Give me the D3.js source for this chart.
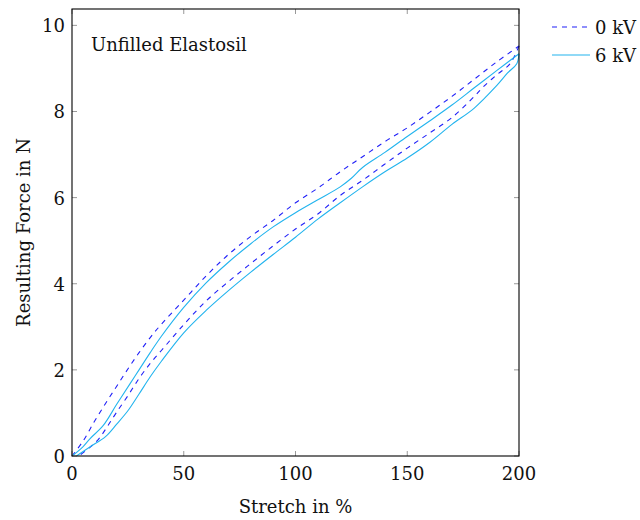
<!DOCTYPE html>
<html>
<head>
<meta charset="utf-8">
<script src="https://cdn.jsdelivr.net/npm/d3@7"></script>
<style>
  body { margin: 0; background: #fff; }
  text { font-family: "DejaVu Serif", "Liberation Serif", serif; fill: #111; }
</style>
</head>
<body>
<div id="vizDiv"></div>
<script>
var width = 640
var height = 520

// stretch (%) / force (N)
var load0x   = [0, 5, 10, 15, 20, 25, 30, 35, 40, 50, 60, 70, 80, 90, 100, 110, 120, 130, 140, 150, 160, 170, 180, 190, 200]
var load0y   = [0, 0.35, 0.8, 1.22, 1.62, 2.02, 2.4, 2.75, 3.06, 3.62, 4.18, 4.68, 5.1, 5.47, 5.88, 6.22, 6.6, 6.95, 7.3, 7.62, 7.98, 8.35, 8.75, 9.15, 9.52]
var unload0x = [200, 196, 190, 184, 180, 170, 160, 150, 140, 130, 120, 110, 100, 90, 80, 70, 60, 50, 40, 35, 30, 25, 20, 16, 12, 8, 3]
var unload0y = [9.52, 9.11, 8.85, 8.57, 8.35, 7.86, 7.5, 7.15, 6.78, 6.4, 6.05, 5.62, 5.27, 4.88, 4.47, 4.05, 3.6, 3.05, 2.45, 2.15, 1.8, 1.4, 1.02, 0.7, 0.4, 0.2, 0]

var load6x   = [0, 5, 8, 14, 20, 26, 30, 35, 40, 50, 60, 70, 80, 90, 100, 110, 120, 125, 130, 140, 150, 160, 170, 180, 190, 200]
var load6y   = [0, 0.22, 0.4, 0.71, 1.2, 1.68, 2.0, 2.4, 2.78, 3.45, 4.02, 4.5, 4.93, 5.32, 5.65, 5.95, 6.25, 6.45, 6.7, 7.05, 7.42, 7.78, 8.15, 8.55, 8.95, 9.34]
var unload6x = [200, 199, 195, 190, 180, 170, 160, 150, 140, 130, 120, 110, 100, 90, 80, 70, 60, 50, 40, 35, 30, 25, 20, 15, 8, 2]
var unload6y = [9.34, 9.11, 8.9, 8.6, 8.08, 7.7, 7.28, 6.92, 6.6, 6.25, 5.88, 5.5, 5.08, 4.68, 4.27, 3.84, 3.38, 2.86, 2.2, 1.84, 1.44, 1.05, 0.74, 0.45, 0.21, 0]

var seriesNames = ["0 kV", "6 kV"]
var xTicks = [0, 50, 100, 150, 200]
var yTicks = [0, 2, 4, 6, 8, 10]

var margin = {left: 72, right: 121, top: 9, bottom: 64}
var plotW = width - margin.left - margin.right
var plotH = height - margin.top - margin.bottom
var fs = "18px"

var svg = d3.select("#vizDiv")
  .append("svg")
  .attr("width", width)
  .attr("height", height)

var g = svg.append("g").attr("transform", "translate(" + margin.left + "," + margin.top + ")")

var x = d3.scaleLinear().domain([0, 200]).range([0, plotW])
var y = d3.scaleLinear().domain([0, 10.38]).range([plotH, 0])

function pts(xs, ys) { return xs.map(function(v, i) { return [v, ys[i]] }) }

var line = d3.line()
  .x(function(d) { return x(d[0]) })
  .y(function(d) { return y(d[1]) })
  .curve(d3.curveCatmullRom.alpha(0.5))

var series = [
  {name: seriesNames[0], parts: [pts(load0x, load0y), pts(unload0x, unload0y)], color: "#2020f8", dash: "5,5"},
  {name: seriesNames[1], parts: [pts(load6x, load6y), pts(unload6x, unload6y)], color: "#22b4ee", dash: null}
]

series.forEach(function(s) {
  s.parts.forEach(function(p) {
    g.append("path")
      .attr("d", line(p))
      .attr("fill", "none")
      .attr("stroke", s.color)
      .attr("stroke-width", 1.1)
      .attr("stroke-dasharray", s.dash)
  })
})

// inward ticks on all four sides
var tickCol = "#999"
xTicks.forEach(function(t) {
  g.append("line").attr("x1", x(t)).attr("x2", x(t)).attr("y1", plotH).attr("y2", plotH - 5).attr("stroke", tickCol)
  g.append("line").attr("x1", x(t)).attr("x2", x(t)).attr("y1", 0).attr("y2", 5).attr("stroke", tickCol)
  g.append("text").attr("x", x(t)).attr("y", plotH + 24).attr("text-anchor", "middle")
    .style("font-size", fs).text(t)
})
yTicks.forEach(function(t) {
  g.append("line").attr("x1", 0).attr("x2", 5).attr("y1", y(t)).attr("y2", y(t)).attr("stroke", tickCol)
  g.append("line").attr("x1", plotW).attr("x2", plotW - 5).attr("y1", y(t)).attr("y2", y(t)).attr("stroke", tickCol)
  g.append("text").attr("x", -7).attr("y", y(t) + 7).attr("text-anchor", "end")
    .style("font-size", fs).text(t)
})

g.append("rect").attr("width", plotW).attr("height", plotH)
  .attr("fill", "none").attr("stroke", "#000").attr("stroke-width", 1.1)

g.append("text").attr("x", 19).attr("y", 42).style("font-size", fs).text("Unfilled Elastosil")

svg.append("text").attr("x", margin.left + plotW / 2).attr("y", 513)
  .attr("text-anchor", "middle").style("font-size", fs).text("Stretch in %")
svg.append("text")
  .attr("transform", "translate(30," + (margin.top + plotH / 2) + ") rotate(-90)")
  .attr("text-anchor", "middle").style("font-size", fs).text("Resulting Force in N")

// legend
series.forEach(function(s, i) {
  var ly = 27 + i * 28
  svg.append("line").attr("x1", 552).attr("x2", 590).attr("y1", ly).attr("y2", ly)
    .attr("stroke", s.color).attr("stroke-width", 1.1).attr("stroke-dasharray", s.dash)
  svg.append("text").attr("x", 595).attr("y", ly + 7).style("font-size", fs).text(s.name)
})
</script>
</body>
</html>
